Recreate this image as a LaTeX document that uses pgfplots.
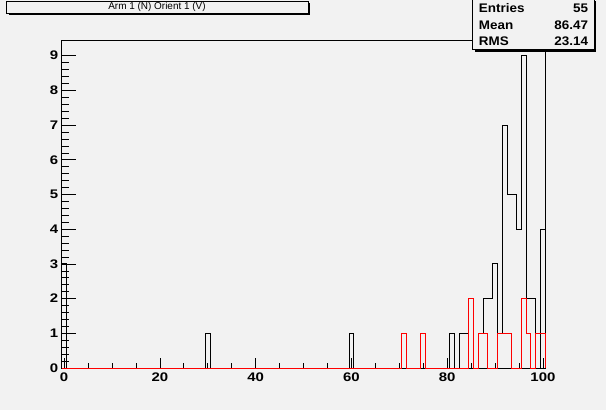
\documentclass[border=0pt]{standalone}
\usepackage{fontspec}
\setmainfont{Liberation Sans}[FakeStretch=1.08]
\newfontfamily\titlefont{Liberation Sans}
\newfontfamily\tickfont{Liberation Sans}[FakeStretch=1.2]
\usepackage{pgfplots}
\pgfplotsset{compat=1.18}
\definecolor{rootbg}{RGB}{242,242,242}
\definecolor{rootred}{RGB}{255,0,0}
\begin{document}
\begin{tikzpicture}
\useasboundingbox (0,0) rectangle (606bp,-410bp);
\fill[rootbg] (0,0) rectangle (606bp,-410bp);
\pgfplotsset{rootaxis/.style={
  at={(61.7bp,-368bp)}, anchor=south west,
  scale only axis, width=483.6bp, height=328bp,
  xmin=-0.5, xmax=100.5, ymin=0, ymax=9.45,
  axis line style={line width=0.8bp},
  tick align=inside,
  tick style={black, line width=0.6bp},
  /pgf/number format/assume math mode=true,
  tick label style={font=\tickfont\bfseries\fontsize{12.5}{14}\selectfont},
}}
% frame and y ticks
\begin{axis}[rootaxis,
  xtick=\empty,
  ytick={0,1,...,9}, minor y tick num=4,
  ytick pos=left,
  major tick length=14.5bp, minor tick length=7.2bp,
]
\end{axis}
% x ticks and the two histograms (drawn over the frame, as ROOT does)
\begin{axis}[rootaxis,
  axis line style={draw=none},
  clip=false,
  xtick={0,20,...,100},
  minor xtick={5,10,15,25,30,35,45,50,55,65,70,75,85,90,95},
  xtick pos=lower,
  ytick=\empty,
  major tick length=9.8bp, minor tick length=4.9bp,
  xticklabel style={yshift=-1bp},
]
% bin left edge, bin content (held until the next edge)
\addplot[black, line width=0.9bp, const plot mark left, mark=none] coordinates {
  (-0.5,0) (-0.5,3) (0.5,0) (29.5,1) (30.5,0) (59.5,1) (60.5,0)
  (80.5,1) (81.5,0) (82.5,1) (84.5,0) (86.5,1) (87.5,2) (89.5,3)
  (90.5,1) (91.5,7) (92.5,5) (94.5,4) (95.5,9) (96.5,2) (98.5,0)
  (99.5,4) (100.5,0)
};
\addplot[rootred, line width=0.9bp, const plot mark left, mark=none] coordinates {
  (-0.5,0) (70.5,1) (71.5,0) (74.5,1) (75.5,0) (84.5,2) (85.5,0)
  (86.5,1) (88.5,0) (90.5,1) (93.5,0) (95.5,2) (96.5,1) (97.5,0)
  (98.5,1) (100.5,0)
};
\end{axis}
\begin{scope}[x=1bp,y=-1bp]
  % title box
  \fill[black] (8.5,3) rectangle (310,15);
  \filldraw[fill=rootbg, draw=black, line width=0.8bp] (6.5,1) rectangle (308,13);
  \node[font=\titlefont\fontsize{10}{12}\selectfont, inner sep=0] at (157,7) {Arm 1 (N) Orient 1 (V)};
  % stats box
  \fill[black] (474.5,1) rectangle (596,51.5);
  \filldraw[fill=rootbg, draw=black, line width=0.8bp] (472.3,-1) rectangle (594,49.5);
  \begin{scope}[every node/.style={font=\bfseries\fontsize{12.5}{14}\selectfont, inner sep=0}]
    \node[anchor=base west] at (478.7,12.8) {Entries};
    \node[anchor=base east] at (588.3,12.8) {55};
    \node[anchor=base west] at (478.7,29.3) {Mean};
    \node[anchor=base east] at (588.3,29.3) {86.47};
    \node[anchor=base west] at (478.7,45.8) {RMS};
    \node[anchor=base east] at (588.3,45.8) {23.14};
  \end{scope}
\end{scope}
\end{tikzpicture}
\end{document}
